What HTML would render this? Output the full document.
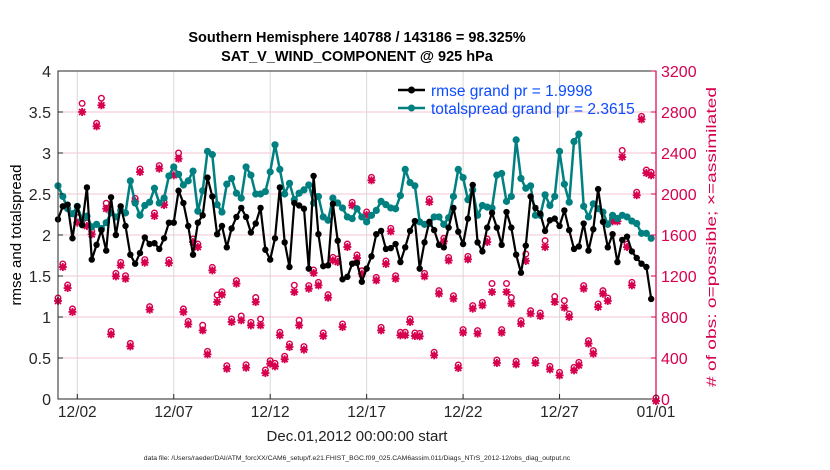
<!DOCTYPE html>
<html><head><meta charset="utf-8"><style>
html,body{margin:0;padding:0;background:#fff;}
svg{display:block;font-family:"Liberation Sans",Arial,sans-serif;}
</style></head><body>
<svg id="chart" width="830" height="470" viewBox="0 0 830 470">
<g id="grid"></g>
<g id="series"></g>
<g id="axes"></g>
<text x="357" y="42" text-anchor="middle" font-size="14.5" font-weight="bold">Southern Hemisphere 140788 / 143186 = 98.325%</text>
<text x="357" y="61" text-anchor="middle" font-size="14.5" font-weight="bold">SAT_V_WIND_COMPONENT @ 925 hPa</text>
<text transform="translate(21,235) rotate(-90)" text-anchor="middle" font-size="15">rmse and totalspread</text>
<text transform="translate(716,237) rotate(-90)" text-anchor="middle" font-size="14" fill="#d6004f" textLength="300" lengthAdjust="spacingAndGlyphs"># of obs: o=possible; ×=assimilated</text>
<text x="357" y="441" text-anchor="middle" font-size="15" fill="#222">Dec.01,2012 00:00:00 start</text>
<text x="357" y="460" text-anchor="middle" font-size="6.8" fill="#222">data file: /Users/raeder/DAI/ATM_forcXX/CAM6_setup/f.e21.FHIST_BGC.f09_025.CAM6assim.011/Diags_NTrS_2012-12/obs_diag_output.nc</text>
<g>
<g>
<line x1="398" y1="90" x2="425" y2="90" stroke="#000" stroke-width="2.5"/><circle cx="411.5" cy="90" r="3.5" fill="#000"/>
<text x="431" y="96" font-size="15.5" fill="#0b4cff">rmse grand pr = 1.9998</text></g>
<g>
<line x1="398" y1="108" x2="425" y2="108" stroke="#008080" stroke-width="2.5"/><circle cx="411.5" cy="108" r="3.5" fill="#008080"/>
<text x="431" y="114" font-size="15.5" fill="#0b4cff">totalspread grand pr = 2.3615</text></g>
</g>
</svg>
<script>
const rmse=[2.19,2.35,2.37,1.96,2.35,2.12,2.58,1.70,1.88,2.06,1.81,2.46,2.0,2.35,2.11,1.76,1.65,1.78,1.97,1.89,1.90,1.83,1.96,2.15,2.15,2.54,2.39,2.11,1.76,2.15,2.24,2.70,2.47,2.01,2.11,1.85,2.08,2.22,2.33,2.22,2.03,2.14,2.33,1.82,1.70,1.96,2.58,1.91,1.61,2.39,2.36,2.32,1.59,2.72,2.01,1.62,1.63,2.38,1.93,1.46,1.49,1.65,1.66,1.43,1.59,1.74,2.01,2.05,1.83,1.84,1.89,1.67,1.85,2.05,2.17,1.59,1.91,2.16,2.06,1.88,1.85,2.09,2.33,2.04,1.89,2.20,2.61,1.91,1.80,2.09,2.27,2.09,1.88,2.28,2.09,1.76,1.54,1.87,2.47,2.33,2.26,2.05,2.18,2.20,2.11,2.30,2.06,1.83,1.86,2.14,1.81,2.07,2.56,2.16,1.85,2.01,1.67,1.94,1.98,1.80,1.72,1.65,1.61,1.22,null];
const spread=[2.60,2.47,2.32,2.26,2.35,2.19,2.23,2.10,2.13,2.08,2.15,2.27,2.22,2.30,2.27,2.66,2.39,2.24,2.36,2.40,2.57,2.39,2.45,2.72,2.83,2.74,2.61,2.66,2.78,2.29,2.54,3.02,2.98,2.37,2.28,2.62,2.69,2.51,2.45,2.83,2.73,2.50,2.50,2.53,2.77,3.10,2.80,2.50,2.63,2.43,2.51,2.55,2.61,2.39,2.47,2.22,2.18,2.45,2.39,2.33,2.22,2.20,2.32,2.22,2.16,2.24,2.30,2.41,2.37,2.33,2.32,2.48,2.80,2.64,2.60,2.16,2.13,2.14,2.22,2.22,2.13,2.21,2.47,2.80,2.70,2.43,2.55,2.24,2.36,2.34,2.33,2.73,2.75,2.41,2.47,3.16,2.69,2.57,2.60,2.24,2.24,2.49,2.36,2.47,3.02,2.62,2.40,3.14,3.23,2.35,2.22,2.38,2.32,2.28,2.13,2.24,2.20,2.24,2.22,2.17,2.14,2.02,2.02,1.96,null];
const assimilated=[976,1307,1102,869,1740,2820,1707,1626,2680,2885,1876,650,1216,1323,1193,533,1948,2234,1350,891,1805,2267,1912,1346,2202,2364,869,748,1551,1502,689,455,1274,966,1037,315,771,1145,787,325,738,966,738,273,364,338,641,407,527,1063,738,501,1096,1249,1128,634,1008,1372,1356,722,1502,1909,1395,1241,1815,2153,1177,689,1337,1655,1193,641,641,771,634,631,1216,1941,446,1047,1558,1371,998,322,667,1382,901,657,933,1551,1063,371,667,1063,950,358,754,1366,852,371,829,1502,309,966,250,911,820,299,348,1096,560,462,917,1047,976,1753,1753,2380,1502,1128,2007,2748,2224,2202,0];
const possible=[976,1307,1102,869,1760,2874,1707,1626,2680,2925,1900,650,1216,1323,1193,533,1948,2234,1350,891,1805,2267,1912,1346,2202,2390,869,748,1551,1502,710,455,1274,1005,1037,315,771,1145,800,325,738,980,770,273,364,338,641,407,527,1100,758,501,1096,1249,1128,634,1008,1372,1356,722,1502,1909,1395,1241,1815,2153,1177,689,1337,1655,1193,641,641,771,634,631,1216,1941,446,1047,1558,1371,998,322,667,1382,901,657,933,1551,1117,371,667,1117,980,358,754,1405,852,371,829,1535,309,990,250,950,820,299,348,1096,560,462,917,1047,976,1753,1753,2415,1502,1128,2007,2748,2224,2202,0];
const xTickLabels=["12/02","12/07","12/12","12/17","12/22","12/27","01/01"];
const xTickDays=[1,6,11,16,21,26,31];
const leftTicks=[0,0.5,1,1.5,2,2.5,3,3.5,4];
const rightTicks=[0,400,800,1200,1600,2000,2400,2800,3200];

const NS="http://www.w3.org/2000/svg";
const L=58,R=656,T=71,B=399;
const xDay=d=>L+(d/31)*(R-L);
const xIdx=i=>xDay(i*0.25);
const yL=v=>B-(v/4)*(B-T);
const yR=v=>B-(v/3200)*(B-T);
function mk(tag,attrs,parent){const e=document.createElementNS(NS,tag);for(const k in attrs)e.setAttribute(k,attrs[k]);parent.appendChild(e);return e;}
const grid=document.getElementById('grid'),ser=document.getElementById('series'),ax=document.getElementById('axes');

rightTicks.forEach(v=>{if(v>0&&v<3200){const g=mk('line',{x1:L,x2:R,y1:yR(v),y2:yR(v),stroke:'#f3c6d6','stroke-width':1},grid);

}});
xTickDays.forEach(d=>{if(d<31){const g=mk('line',{x1:xDay(d),x2:xDay(d),y1:T,y2:B,stroke:'#d8d8d8','stroke-width':1},grid);

}});

function star(cx,cy,parent){const g=mk('g',{stroke:'#d6004f','stroke-width':1.8,fill:'#d6004f'},parent);
mk('line',{x1:cx-4,y1:cy,x2:cx+4,y2:cy},g);mk('line',{x1:cx,y1:cy-4,x2:cx,y2:cy+4},g);
mk('line',{x1:cx-3,y1:cy-3,x2:cx+3,y2:cy+3},g);mk('line',{x1:cx-3,y1:cy+3,x2:cx+3,y2:cy-3},g);
mk('circle',{cx:cx,cy:cy,r:2.8,stroke:'none'},g);return g;}
possible.forEach((v,i)=>{const c=mk('circle',{cx:xIdx(i),cy:yR(v)-1,r:2.8,fill:'none',stroke:'#d6004f','stroke-width':1.4},ser);

});
assimilated.forEach((v,i)=>{const s=star(xIdx(i),yR(v)+2,ser);

});

function line(data,color,w,r,name){
  let d='';data.forEach((v,i)=>{if(v==null)return;d+=(d?'L':'M')+xIdx(i).toFixed(1)+' '+yL(v).toFixed(1);});
  const p=mk('path',{d:d,fill:'none',stroke:color,'stroke-width':w,'stroke-linejoin':'round'},ser);
  
  
  data.forEach((v,i)=>{if(v==null)return;const c=mk('circle',{cx:xIdx(i),cy:yL(v),r:r,fill:color},ser);
  
  });
}
line(spread,'#008080',2.5,3.6,'totalspread');
line(rmse,'#000',2.2,3.2,'rmse');

mk('rect',{x:L,y:T,width:R-L,height:B-T,fill:'none',stroke:'#262626','stroke-width':1},ax);
const ra=mk('line',{x1:R,y1:T,x2:R,y2:B,stroke:'#d6004f','stroke-width':1.2},ax);


leftTicks.forEach(v=>{mk('line',{x1:L,x2:L+5,y1:yL(v),y2:yL(v),stroke:'#262626'},ax);
const t=mk('text',{x:L-7,y:yL(v)+6,'text-anchor':'end','font-size':16,fill:'#262626'},ax);t.textContent=String(v);

});
rightTicks.forEach(v=>{mk('line',{x1:R-5,x2:R,y1:yR(v),y2:yR(v),stroke:'#d6004f'},ax);
const t=mk('text',{x:R+5,y:yR(v)+6,'font-size':16,fill:'#d6004f'},ax);t.textContent=String(v);

});
xTickDays.forEach((d,k)=>{mk('line',{x1:xDay(d),x2:xDay(d),y1:B,y2:B-5,stroke:'#262626'},ax);
const t=mk('text',{x:xDay(d),y:417,'text-anchor':'middle','font-size':15.5,fill:'#262626'},ax);t.textContent=xTickLabels[k];

});
</script>
</body></html>
